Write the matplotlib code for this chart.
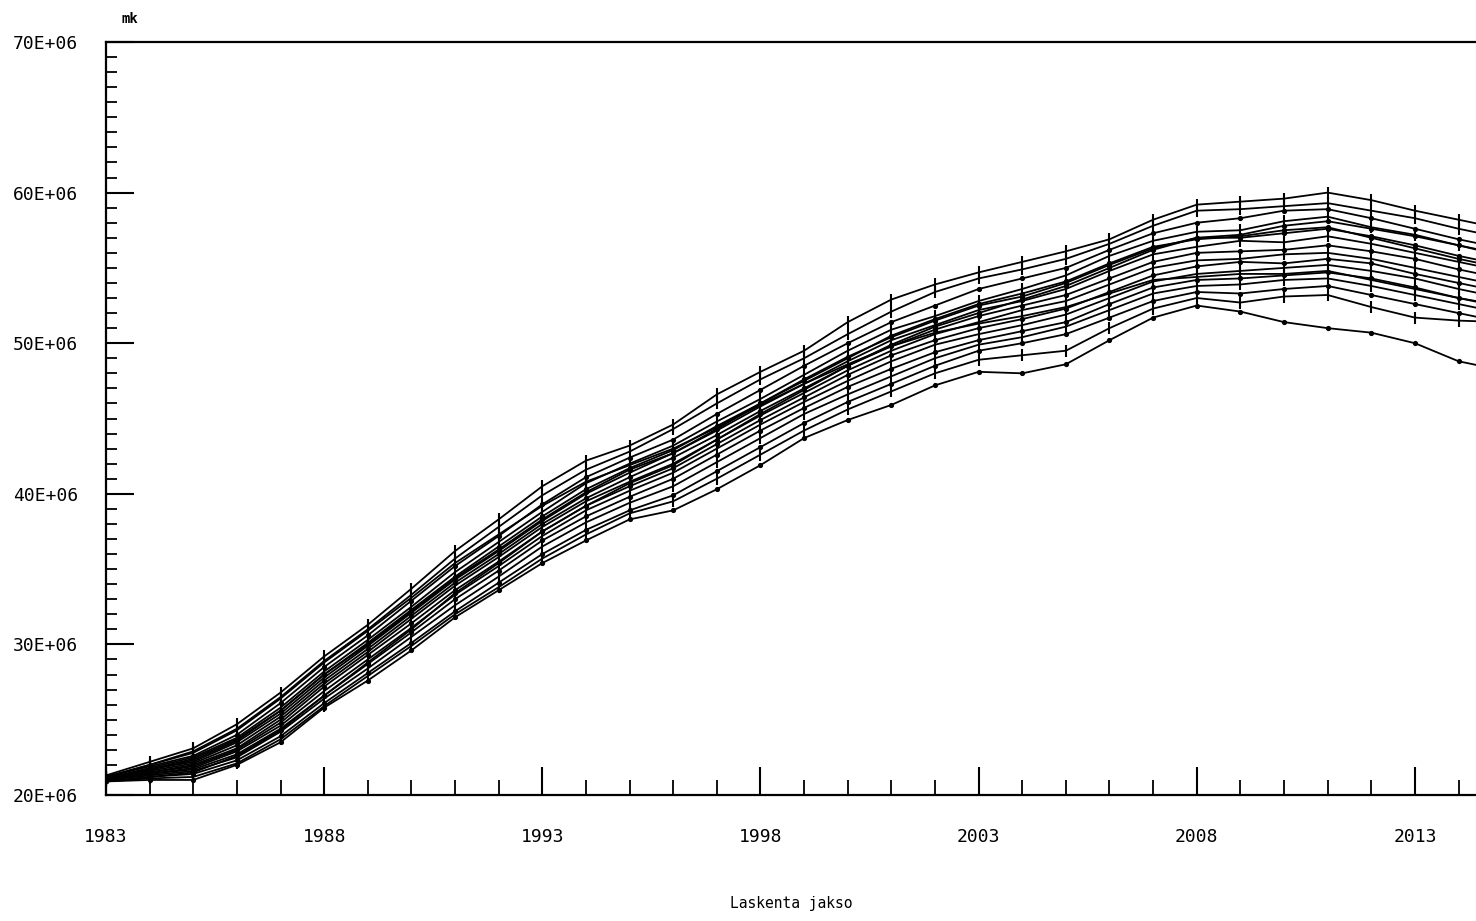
import matplotlib
matplotlib.use("Agg")
import matplotlib.pyplot as plt
import numpy as np
from matplotlib.ticker import MultipleLocator

# Calculation periods and simulated totals (millions of mk), one list per run
years = list(range(1983, 2016))

run_a = [21.3, 22.2, 23.1, 24.7, 26.8, 29.2, 31.3, 33.7, 36.2, 38.3, 40.5, 42.2, 43.2, 44.6, 46.6, 48.1, 49.5,
         51.4, 52.9, 53.9, 54.7, 55.4, 56.1, 56.9, 58.2, 59.2, 59.4, 59.6, 60.0, 59.5, 58.8, 58.2, 57.6]
run_b = [20.9, 21.0, 21.0, 22.0, 23.5, 25.8, 27.6, 29.6, 31.8, 33.6, 35.4, 36.9, 38.3, 38.9, 40.3, 41.9, 43.7,
         44.9, 45.9, 47.2, 48.1, 48.0, 48.6, 50.2, 51.7, 52.5, 52.1, 51.4, 51.0, 50.7, 50.0, 48.8, 48.2]
run_c = [21.2, 22.0, 22.9, 24.4, 26.5, 28.9, 31.0, 33.3, 35.7, 37.8, 39.9, 41.6, 42.8, 44.3, 46.0, 47.6, 49.0,
         50.6, 52.1, 53.4, 54.3, 54.9, 55.6, 56.6, 57.8, 58.8, 58.9, 59.1, 59.3, 58.8, 58.3, 57.6, 57.0]
run_d = [21.2, 21.9, 22.6, 24.0, 26.1, 28.5, 30.6, 32.9, 35.2, 37.2, 39.3, 41.1, 42.4, 43.6, 45.3, 46.9, 48.5,
         50.0, 51.4, 52.5, 53.6, 54.3, 55.0, 56.2, 57.3, 58.0, 58.3, 58.8, 58.9, 58.3, 57.6, 56.9, 56.3]
run_e = [21.1, 21.8, 22.5, 23.8, 25.8, 28.2, 30.3, 32.5, 34.8, 36.8, 38.8, 40.7, 42.0, 43.2, 44.8, 46.3, 47.9,
         49.5, 50.9, 51.8, 52.8, 53.6, 54.5, 55.8, 56.8, 57.4, 57.5, 58.1, 58.4, 57.7, 57.2, 56.5, 55.8]
run_f = [21.1, 21.7, 22.3, 23.6, 25.6, 28.0, 30.1, 32.3, 34.5, 36.5, 38.5, 40.3, 41.7, 42.9, 44.5, 46.0, 47.6,
         49.1, 50.4, 51.5, 52.5, 53.1, 54.0, 55.2, 56.3, 57.0, 57.0, 57.3, 57.6, 57.1, 56.5, 55.8, 55.2]
run_g = [21.1, 21.7, 22.2, 23.5, 25.4, 27.8, 29.9, 32.1, 34.3, 36.2, 38.2, 40.0, 41.4, 42.7, 44.2, 45.8, 47.3,
         48.8, 50.2, 51.2, 52.2, 52.8, 53.6, 54.8, 55.9, 56.4, 56.8, 56.7, 57.1, 56.6, 56.0, 55.4, 54.8]
run_h = [21.0, 21.6, 22.1, 23.3, 25.2, 27.6, 29.7, 31.9, 34.1, 36.0, 38.0, 39.7, 41.1, 42.4, 43.9, 45.5, 47.0,
         48.5, 49.8, 50.9, 51.8, 52.5, 53.2, 54.3, 55.4, 56.0, 56.1, 56.2, 56.5, 56.1, 55.6, 54.9, 54.3]
run_i = [21.0, 21.5, 22.0, 23.1, 25.0, 27.4, 29.5, 31.7, 33.9, 35.8, 37.8, 39.5, 40.8, 42.0, 43.6, 45.2, 46.7,
         48.2, 49.5, 50.6, 51.4, 52.2, 52.8, 53.9, 55.0, 55.5, 55.6, 55.9, 56.0, 55.6, 55.0, 54.4, 53.8]
run_j = [21.0, 21.5, 21.9, 23.0, 24.8, 27.2, 29.3, 31.4, 33.6, 35.5, 37.5, 39.2, 40.5, 41.7, 43.3, 44.9, 46.4,
         47.9, 49.2, 50.2, 51.0, 51.6, 52.3, 53.4, 54.5, 55.1, 55.4, 55.3, 55.6, 55.3, 54.6, 54.0, 53.4]
run_k = [21.0, 21.4, 21.8, 22.9, 24.6, 26.9, 29.0, 31.1, 33.3, 35.2, 37.2, 38.9, 40.2, 41.4, 43.0, 44.6, 46.1,
         47.5, 48.8, 49.9, 50.6, 51.2, 51.9, 53.0, 54.1, 54.6, 54.8, 55.0, 55.2, 54.8, 54.3, 53.6, 53.0]
run_l = [21.0, 21.4, 21.7, 22.7, 24.4, 26.6, 28.7, 30.8, 33.0, 34.9, 36.9, 38.5, 39.8, 41.0, 42.6, 44.2, 45.7,
         47.1, 48.3, 49.4, 50.2, 50.8, 51.4, 52.6, 53.7, 54.2, 54.3, 54.5, 54.7, 54.3, 53.7, 53.0, 52.4]
run_m = [21.0, 21.3, 21.6, 22.5, 24.2, 26.4, 28.4, 30.5, 32.6, 34.5, 36.5, 38.1, 39.4, 40.5, 42.1, 43.7, 45.3,
         46.6, 47.8, 49.0, 49.9, 50.4, 51.1, 52.2, 53.3, 53.8, 53.9, 54.2, 54.3, 53.8, 53.2, 52.6, 52.0]
run_n = [20.9, 21.2, 21.4, 22.3, 23.9, 26.1, 28.1, 30.1, 32.2, 34.1, 36.0, 37.6, 38.9, 39.9, 41.5, 43.1, 44.7,
         46.1, 47.3, 48.5, 49.5, 50.0, 50.6, 51.7, 52.8, 53.4, 53.3, 53.6, 53.8, 53.2, 52.6, 52.0, 51.4]
run_o = [20.9, 21.1, 21.2, 22.1, 23.7, 25.9, 27.9, 29.9, 32.0, 33.8, 35.7, 37.3, 38.7, 39.5, 41.0, 42.6, 44.2,
         45.6, 46.8, 48.0, 48.9, 49.2, 49.5, 51.0, 52.3, 53.0, 52.7, 53.1, 53.2, 52.4, 51.7, 51.5, 51.4]
run_p = [20.9, 21.2, 21.5, 22.6, 24.3, 26.6, 28.8, 31.0, 33.4, 35.4, 37.5, 39.2, 40.7, 41.9, 43.6, 45.3, 46.9,
         48.5, 49.9, 51.1, 52.0, 52.9, 53.8, 55.0, 56.2, 57.0, 57.2, 57.8, 58.1, 57.6, 57.1, 56.5, 55.9]
run_q = [21.2, 22.0, 22.8, 24.3, 26.4, 28.8, 30.9, 33.1, 35.4, 37.3, 39.2, 40.8, 41.9, 43.0, 44.4, 45.9, 47.3,
         48.6, 49.8, 50.7, 51.3, 51.8, 52.4, 53.3, 54.2, 54.4, 54.6, 54.6, 54.8, 54.2, 53.6, 53.0, 52.5]
run_r = [21.1, 21.7, 22.4, 23.7, 25.6, 28.0, 30.0, 32.2, 34.4, 36.3, 38.3, 40.1, 41.6, 42.7, 44.3, 46.0, 47.5,
         49.0, 50.5, 51.6, 52.6, 53.3, 54.1, 55.3, 56.4, 56.9, 57.1, 57.5, 57.7, 57.0, 56.3, 55.6, 55.0]

runs = [run_a, run_b, run_c, run_d, run_e, run_f, run_g, run_h, run_i,
        run_j, run_k, run_l, run_m, run_n, run_o, run_p, run_q, run_r]

year_ticks = [1983, 1988, 1993, 1998, 2003, 2008, 2013]
value_ticks = [20e6, 30e6, 40e6, 50e6, 60e6, 70e6]
value_labels = ["20E+06", "30E+06", "40E+06", "50E+06", "60E+06", "70E+06"]

plt.rcParams["font.family"] = ["DejaVu Sans Mono"]

fig = plt.figure(figsize=(14.76, 9.21), dpi=100)
ax = fig.add_axes([0.0718, 0.1368, 0.9282, 0.8176])

for i, run in enumerate(runs):
    vals = np.array(run) * 1e6
    marker = "|" if i % 2 == 0 else "."
    ax.plot(years, vals, color="black", linewidth=1.3, marker=marker,
            markersize=8 if marker == "|" else 4.5, markeredgewidth=1.5)

ax.set_xlim(1983, 2014.4)
ax.set_ylim(20e6, 70e6)

ax.set_xticks(year_ticks)
ax.set_xticklabels([str(y) for y in year_ticks])
ax.xaxis.set_minor_locator(MultipleLocator(1))
ax.set_yticks(value_ticks)
ax.set_yticklabels(value_labels)
ax.yaxis.set_minor_locator(MultipleLocator(1e6))

ax.tick_params(axis="both", which="major", direction="in", width=1.5, labelsize=13, color="black")
ax.tick_params(axis="x", which="major", length=20, pad=24)
ax.tick_params(axis="y", which="major", length=20, pad=20)
ax.tick_params(axis="x", which="minor", direction="in", length=11, width=1.3)
ax.tick_params(axis="y", which="minor", direction="in", length=8, width=1.3)

for side in ("left", "bottom", "top"):
    ax.spines[side].set_linewidth(1.6)
ax.spines["right"].set_visible(False)

ax.set_xlabel("Laskenta jakso", fontsize=10.5, labelpad=36)
ax.text(0.011, 1.025, "mk", transform=ax.transAxes, fontsize=10, fontweight="bold")

fig.savefig("out.png", dpi=100)
